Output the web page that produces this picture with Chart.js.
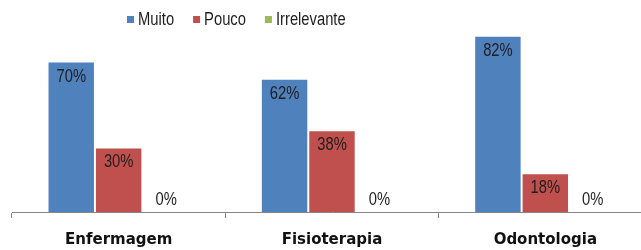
<!DOCTYPE html>
<html lang="pt">
<head>
  <meta charset="UTF-8" />
  <title>Muito / Pouco / Irrelevante</title>
  <script src="https://cdn.jsdelivr.net/npm/chart.js"></script>
  <style>
    html,body{margin:0;padding:0;background:#fff;overflow:hidden;}
    #wrap{width:660px;height:250px;}
  </style>
</head>
<body>
<div id="wrap"><canvas id="chart" width="660" height="250"></canvas></div>
<script>
// ── data ────────────────────────────────────────────────
const categories = ['Enfermagem', 'Fisioterapia', 'Odontologia'];
const seriesNames = ['Muito', 'Pouco', 'Irrelevante'];
const muito = [70, 62, 82];
const pouco = [30, 38, 18];
const irrelevante = [0, 0, 0];
const colors = ['#4F81BD', '#C0504D', '#9BBB59'];

// no narrow font installed, so squeeze Liberation Sans horizontally
const SQUEEZE = 0.82;
function narrowText(ctx, text, x, y){
  ctx.save();
  ctx.translate(x, y);
  ctx.scale(SQUEEZE, 1);
  ctx.fillText(text, 0, 0);
  ctx.restore();
}

// value labels: inside the top of a bar, or just above the axis for 0%
const valueLabels = {
  id: 'valueLabels',
  afterDatasetsDraw(chart){
    const ctx = chart.ctx;
    ctx.save();
    ctx.font = '18px "Liberation Sans", Arial, sans-serif';
    ctx.fillStyle = '#1e1e1e';
    ctx.textAlign = 'center';
    ctx.textBaseline = 'middle';
    chart.data.datasets.forEach((ds, i) => {
      chart.getDatasetMeta(i).data.forEach((bar, j) => {
        const v = ds.data[j];
        const y = v > 0 ? bar.y + 15 : bar.base - 12;
        narrowText(ctx, v + '%', bar.x, y);
      });
    });
    ctx.restore();
  }
};

// legend drawn by hand so it sits left of centre like the original
const legendBox = {
  id: 'legendBox',
  afterDraw(chart){
    const ctx = chart.ctx;
    ctx.save();
    ctx.font = '18px "Liberation Sans", Arial, sans-serif';
    ctx.textBaseline = 'middle';
    ctx.textAlign = 'left';
    let x = 127;
    const y = 20;
    chart.data.datasets.forEach(ds => {
      ctx.fillStyle = ds.backgroundColor;
      ctx.fillRect(x, y - 4, 7, 7);
      x += 11;
      ctx.fillStyle = '#1e1e1e';
      narrowText(ctx, ds.label, x, y);
      x += ctx.measureText(ds.label).width * SQUEEZE + 19;
    });
    ctx.restore();
  }
};

new Chart(document.getElementById('chart'), {
  type: 'bar',
  data: {
    labels: categories,
    datasets: [
      {label: seriesNames[0], data: muito, backgroundColor: colors[0]},
      {label: seriesNames[1], data: pouco, backgroundColor: colors[1]},
      {label: seriesNames[2], data: irrelevante, backgroundColor: colors[2]}
    ]
  },
  options: {
    responsive: false,
    animation: false,
    layout: {padding: {top: 25, left: 12, right: 8, bottom: 0}},
    datasets: {bar: {barPercentage: 1, categoryPercentage: 0.667,
      borderWidth: 1, borderColor: 'rgba(255,255,255,0.3)'}},
    plugins: {legend: {display: false}, tooltip: {enabled: false}},
    scales: {
      x: {
        afterFit(scale){ scale.height = 38; },
        grid: {offset: true, drawOnChartArea: false, tickLength: 6, color: '#868686'},
        border: {display: true, color: '#868686'},
        ticks: {
          padding: 13,
          color: '#111',
          font: {family: '"DejaVu Sans", Verdana, sans-serif', size: 15, weight: 'bold'}
        }
      },
      y: {display: false, min: 0, max: 87}
    }
  },
  plugins: [valueLabels, legendBox]
});
</script>
</body>
</html>
